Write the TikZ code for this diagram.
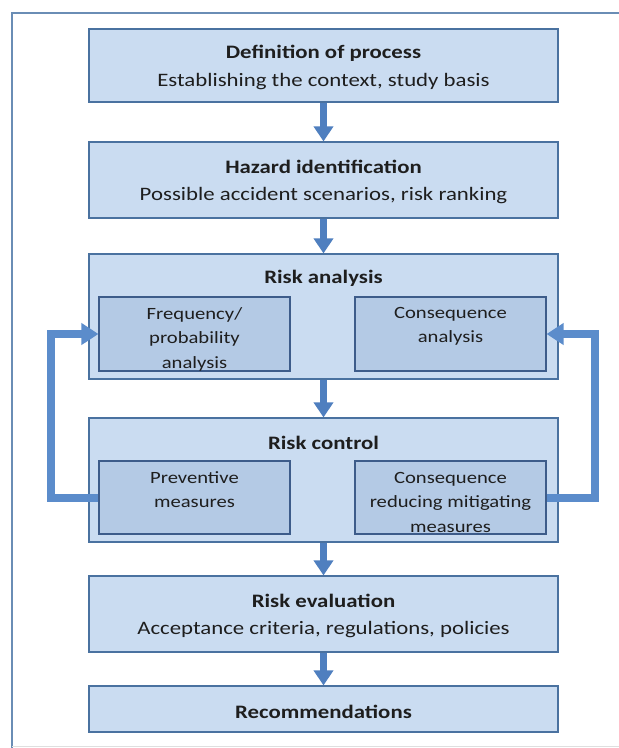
\documentclass[tikz,border=0pt]{standalone}
\usepackage{fontspec}
\setmainfont[FakeStretch=1.2]{Carlito}
\usetikzlibrary{arrows.meta}
\definecolor{boxfill}{HTML}{CADCF1}
\definecolor{boxedge}{HTML}{4A72A0}
\definecolor{innerfill}{HTML}{B4CAE5}
\definecolor{inneredge}{HTML}{3D5C8A}
\definecolor{arrowblue}{HTML}{4F7FBF}
\definecolor{loopblue}{HTML}{5B8CCB}
\definecolor{framecol}{HTML}{6A8DB5}
\definecolor{txt}{HTML}{1E1E1E}
\begin{document}
\begin{tikzpicture}[x=1pt,y=-1pt,
  outerbox/.style={draw=boxedge, line width=1.2pt, fill=boxfill, inner sep=0pt, minimum width=469pt},
  innerbox/.style={draw=inneredge, line width=1.2pt, fill=innerfill, inner sep=0pt, minimum width=191pt},
  titletext/.style={font=\fontsize{19}{23}\selectfont\bfseries, text=txt, inner sep=0pt},
  subtext/.style={font=\fontsize{19}{23}\selectfont, text=txt, inner sep=0pt},
  innertext/.style={font=\fontsize{17.2}{24.5}\selectfont, text=txt, align=center, inner sep=0pt},
  flow/.style={draw=arrowblue, line width=7pt, -{Triangle[width=19pt,length=15pt]}},
  loopback/.style={draw=loopblue, line width=8pt, -{Triangle[width=21pt,length=17pt]}}
]
\useasboundingbox (0,0) rectangle (619,748);
\fill[white] (0,0) rectangle (619,748);
% frame
\draw[framecol, line width=1.5pt] (12,748) -- (12,13) -- (619,13);
\draw[gray!25, line width=1pt] (12,746) -- (619,746);

% outer boxes
\node[outerbox, minimum height=73pt] (def) at (323.5,65.5) {};
\node[outerbox, minimum height=76pt] (haz) at (323.5,180) {};
\node[outerbox, minimum height=125pt] (ana) at (323.5,316.5) {};
\node[outerbox, minimum height=124pt] (ctl) at (323.5,480) {};
\node[outerbox, minimum height=76pt] (eva) at (323.5,614) {};
\node[outerbox, minimum height=46pt] (rec) at (323.5,709) {};

% inner boxes
\node[innerbox, minimum height=74pt] (freq) at (194.5,334) {};
\node[innerbox, minimum height=74pt] (cons) at (450.5,334) {};
\node[innerbox, minimum height=73pt] (prev) at (194.5,497.5) {};
\node[innerbox, minimum height=73pt] (mitig) at (450.5,497.5) {};

% texts
\node[titletext] (deft) at (323.5,53) {Definition of process};
\node[subtext] (defs) at (323.5,82) {Establishing the context, study basis};
\node[titletext] (hazt) at (323.5,167) {Hazard identification};
\node[subtext] (hazs) at (323.5,196) {Possible accident scenarios, risk ranking};
\node[titletext] (anat) at (323.5,278) {Risk analysis};
\node[innertext] (freqt) at (194.5,339) {Frequency/\\probability\\analysis};
\node[innertext] (const) at (450.5,326.5) {Consequence\\analysis};
\node[titletext] (ctlt) at (323.5,443) {Risk control};
\node[innertext] (prevt) at (194.5,489.5) {Preventive\\measures};
\node[innertext] (mitigt) at (450.5,502) {Consequence\\reducing mitigating\\measures};
\node[titletext] (evat) at (323.5,601) {Risk evaluation};
\node[subtext] (evas) at (323.5,630) {Acceptance criteria, regulations, policies};
\node[titletext] (rect) at (323.5,712) {Recommendations};

% flow arrows
\draw[flow] (def.south) -- (haz.north);
\draw[flow] (haz.south) -- (ana.north);
\draw[flow] (ana.south) -- (ctl.north);
\draw[flow] (ctl.south) -- (eva.north);
\draw[flow] (eva.south) -- (rec.north);

% feedback loops
\draw[loopback] (prev.west) -- ++(-47,0) |- (freq.west);
\draw[loopback] (mitig.east) -- ++(48,0) |- (cons.east);
\end{tikzpicture}
\end{document}
